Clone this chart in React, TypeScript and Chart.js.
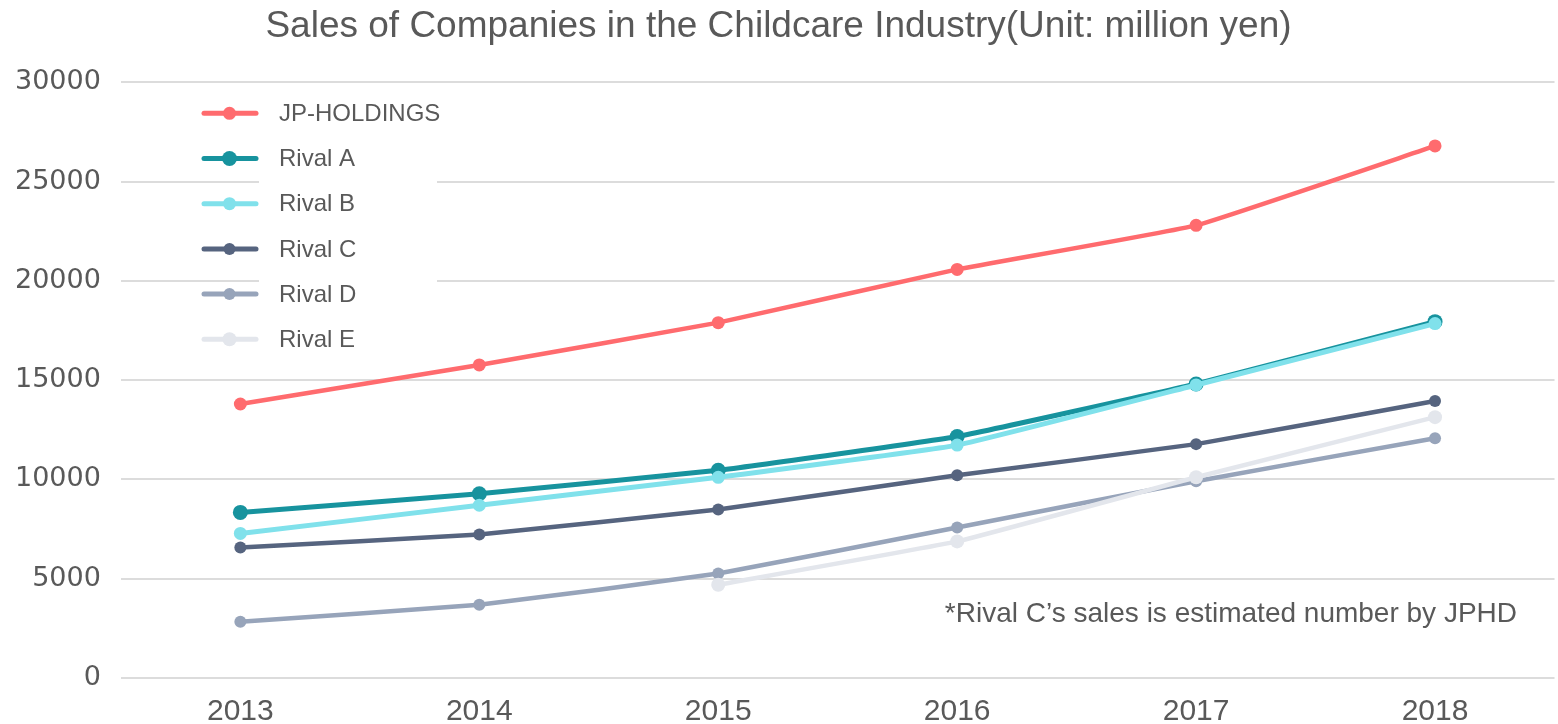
import React, { useEffect, useRef } from "react";
import { Chart, registerables } from "chart.js";

Chart.register(...registerables);

const years = ["2013", "2014", "2015", "2016", "2017", "2018"];
const seriesNames = ["JP-HOLDINGS", "Rival A", "Rival B", "Rival C", "Rival D", "Rival E"];
const jpHoldings = [13800, 15770, 17900, 20580, 22800, 26800];
const rivalA = [8340, 9280, 10460, 12160, 14810, 17950];
const rivalB = [7280, 8700, 10110, 11730, 14760, 17850];
const rivalC = [6570, 7230, 8490, 10210, 11780, 13950];
const rivalD = [2830, 3690, 5260, 7580, 9910, 12080];
const rivalE = [null, null, 4700, 6880, 10110, 13140];
const yTicks = [0, 5000, 10000, 15000, 20000, 25000, 30000];
const titleText = "Sales of Companies in the Childcare Industry(Unit: million yen)";
const noteText = "*Rival C\u2019s sales is estimated number by JPHD";

const colors = ["#ff6b6e", "#17939e", "#80e1eb", "#56647f", "#97a4ba", "#e3e6ec"];
const lineWidths = [4.5, 5, 5, 4.5, 4.5, 4.5];
const pointRadii = [6.5, 7.5, 6.5, 6, 6, 7];

const TEXT = "#595959";

const legendPlugin = {
  id: "customLegend",
  beforeDatasetsDraw(chart: any) {
    const ctx = chart.ctx;
    ctx.save();
    ctx.fillStyle = "#ffffff";
    ctx.fillRect(259, 92, 178, 268);
    const ds = chart.data.datasets;
    const top = 113.3;
    const step = 45.2;
    ds.forEach((d: any, i: number) => {
      const y = top + i * step;
      ctx.strokeStyle = d.borderColor;
      ctx.lineWidth = 5;
      ctx.lineCap = "round";
      ctx.beginPath();
      ctx.moveTo(204, y);
      ctx.lineTo(256, y);
      ctx.stroke();
      ctx.fillStyle = d.borderColor;
      ctx.beginPath();
      ctx.arc(229.5, y, d.pointRadius, 0, Math.PI * 2);
      ctx.fill();
      ctx.fillStyle = TEXT;
      ctx.font = "24px 'Liberation Sans', Arial, sans-serif";
      ctx.textBaseline = "middle";
      ctx.textAlign = "left";
      ctx.fillText(d.label, 279, y + 1);
    });
    ctx.restore();
  },
  afterDraw(chart: any) {
    const ctx = chart.ctx;
    ctx.save();
    ctx.fillStyle = TEXT;
    ctx.font = "28px 'Liberation Sans', Arial, sans-serif";
    ctx.textAlign = "right";
    ctx.textBaseline = "alphabetic";
    ctx.fillText(noteText, 1517, 622);
    ctx.restore();
  },
};

export default function App() {
  const ref = useRef<HTMLCanvasElement | null>(null);
  useEffect(() => {
    const allSeries = [jpHoldings, rivalA, rivalB, rivalC, rivalD, rivalE];
    const chart = new Chart(ref.current as HTMLCanvasElement, {
      type: "line",
      data: {
        labels: years,
        datasets: allSeries.map((data, i) => ({
          label: seriesNames[i],
          data,
          borderColor: colors[i],
          backgroundColor: colors[i],
          pointBackgroundColor: colors[i],
          pointBorderColor: colors[i],
          borderWidth: lineWidths[i],
          pointRadius: pointRadii[i],
          pointBorderWidth: 0,
          tension: 0.1,
          fill: false,
          order: 10 - i,
        })),
      },
      options: {
        responsive: false,
        animation: false,
        devicePixelRatio: 1,
        layout: { padding: { left: -5, right: 0, top: 0, bottom: -22 } },
        plugins: {
          legend: { display: false },
          tooltip: { enabled: false },
          title: {
            display: true,
            text: titleText,
            color: TEXT,
            font: { family: "'Liberation Sans', Arial, sans-serif", size: 37, weight: "normal" },
            padding: { top: 5, bottom: 33 },
          },
        },
        scales: {
          x: {
            offset: true,
            grid: { display: false, drawTicks: false },
            border: { display: false },
            ticks: {
              color: TEXT,
              padding: 16,
              font: { family: "'Liberation Sans', Arial, sans-serif", size: 30 },
              maxRotation: 0,
            },
          },
          y: {
            min: 0,
            max: 30000,
            afterBuildTicks(axis: any) {
              axis.ticks = yTicks.map((v) => ({ value: v }));
            },
            grid: { color: "#dcdcdc", lineWidth: 2, drawTicks: false },
            border: { display: false },
            ticks: {
              color: TEXT,
              padding: 20,
              font: { family: "'DejaVu Sans', sans-serif", size: 27 },
              callback: (v: any) => String(v),
            },
          },
        },
      },
      plugins: [legendPlugin],
    });
    return () => chart.destroy();
  }, []);
  return (
    <div style={{ position: "absolute", left: 0, top: 0, width: 1558, height: 724, overflow: "hidden", background: "#fff" }}>
      <canvas ref={ref} width={1562} height={724} style={{ display: "block" }} />
    </div>
  );
}
